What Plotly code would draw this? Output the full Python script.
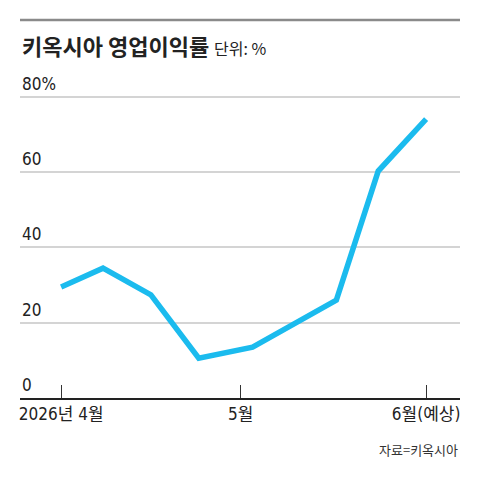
import plotly.graph_objects as go

# 키옥시아 영업이익률 (단위: %)
dates = ["2026-04-01", "2026-04-08", "2026-04-16", "2026-04-24",
         "2026-05-03", "2026-05-17", "2026-05-24", "2026-06-01"]
margin_pct = [29.5, 34.5, 27.4, 10.6, 13.5, 26.0, 60.3, 74.1]

tick_dates = ["2026-04-01", "2026-05-01", "2026-06-01"]
tick_labels = ["2026년 4월", "5월", "6월(예상)"]

y_ticks = [0, 20, 40, 60, 80]
y_labels = ["0", "20", "40", "60", "80%"]

font = "Liberation Sans Narrow, DejaVu Sans Condensed, Noto Sans CJK KR, sans-serif"
top, bottom = 95, 398
h = bottom - top

fig = go.Figure()
fig.add_trace(go.Scatter(
    x=dates, y=margin_pct, mode="lines",
    line=dict(color="#1bbbee", width=5.5),
    hoverinfo="skip", showlegend=False,
))

for v, t in zip(y_ticks, y_labels):
    fig.add_annotation(x=0, xref="paper", y=v, yref="y", text=t,
                       showarrow=False, xanchor="left", yanchor="bottom",
                       yshift=1, font=dict(family=font, size=17, color="#222"))

# top rule
fig.add_shape(type="line", xref="paper", yref="paper", x0=0, x1=1,
              y0=(bottom - 20) / h, y1=(bottom - 20) / h,
              line=dict(color="#8a8a8a", width=2.5))

fig.add_annotation(x=0, xref="paper", y=(bottom - 45) / h, yref="paper",
                   text="<b>키옥시아 영업이익률</b> <span style='font-size:16px'>단위: %</span>",
                   showarrow=False, xanchor="left", yanchor="middle",
                   font=dict(family="Noto Sans CJK KR", size=22, color="#222"))

fig.add_annotation(x=1, xref="paper", y=(bottom - 449) / h, yref="paper",
                   text="자료=키옥시아", showarrow=False,
                   xanchor="right", yanchor="middle",
                   font=dict(family="Noto Sans CJK KR", size=13, color="#333"))

fig.update_xaxes(
    range=["2026-03-25 03:00", "2026-06-06 16:00"],
    tickvals=tick_dates, ticktext=tick_labels,
    ticks="inside", ticklen=13, tickcolor="#333", tickwidth=1,
    showline=True, linecolor="#222", linewidth=2,
    showgrid=False, zeroline=False,
    tickfont=dict(family=font, size=17, color="#222"),
)
fig.update_yaxes(
    range=[0, 80.5], tickvals=y_ticks, showticklabels=False,
    showgrid=True, gridcolor="#d4d4d4", gridwidth=1.5,
    zeroline=False, fixedrange=True,
)
fig.update_layout(
    width=480, height=480,
    margin=dict(l=20, r=20, t=top, b=480 - bottom),
    plot_bgcolor="white", paper_bgcolor="white",
)
fig.write_html("out.html", config={"displayModeBar": False},
               post_script="document.body.style.margin='0';")
